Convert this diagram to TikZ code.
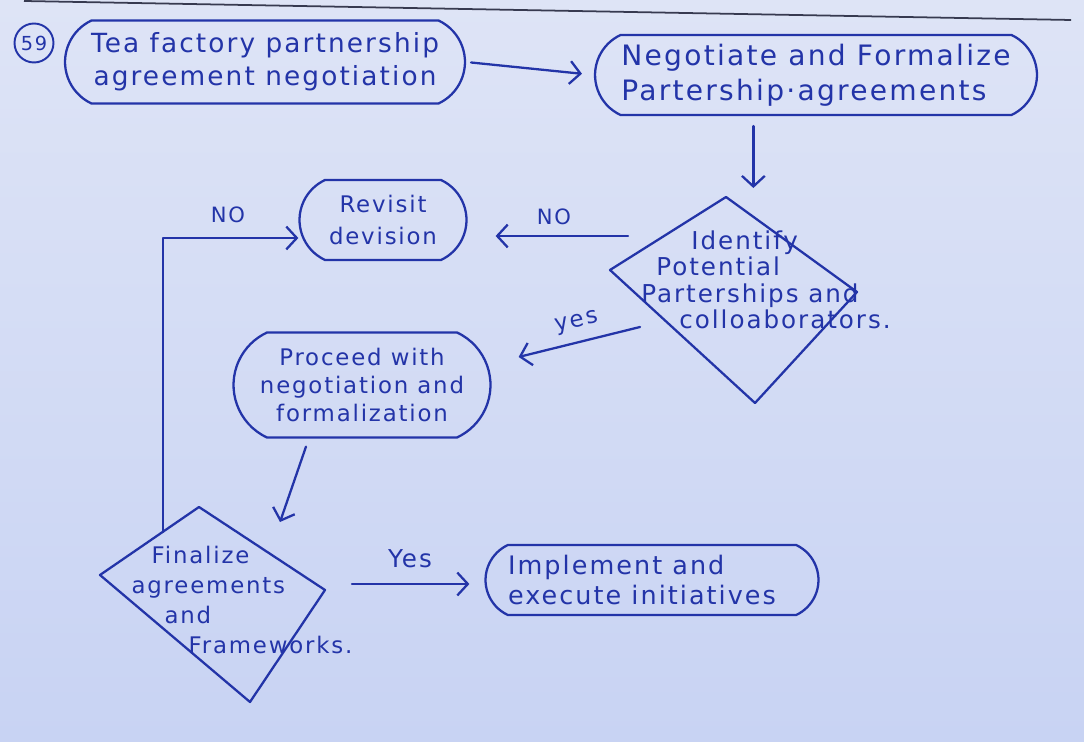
\documentclass[tikz,border=0pt]{standalone}
\usepackage{fontspec}
\setmainfont{DejaVu Sans}[LetterSpace=8]
\usetikzlibrary{arrows.meta,shapes.misc,calc}
\definecolor{ink}{RGB}{35,52,168}
\definecolor{papertop}{RGB}{222,228,246}
\definecolor{paperbot}{RGB}{200,211,243}
\definecolor{rulecol}{RGB}{55,58,80}
\tikzset{
  inkline/.style={draw=ink, line width=1.3pt, line cap=round, line join=round},
  arr/.style={inkline, -{Straight Barb[length=6pt,width=13pt,line width=1.3pt]}},
  box/.style={rounded rectangle, rounded rectangle arc length=130, draw=ink,
    line width=1.3pt, text=ink, inner sep=0pt},
  txt/.style={text=ink, inner sep=0pt},
}
\begin{document}
\begin{tikzpicture}[x=0.02cm, y=-0.02cm]
\shade[top color=papertop, bottom color=paperbot] (0,0) rectangle (1084,742);
\path[use as bounding box] (0,0) rectangle (1084,742);

% ruled line of the paper
\draw[rulecol, line width=1pt] (24,1) -- (1071,20);

% circled number
\node[draw=ink, line width=1.1pt, circle, minimum size=0.78cm, inner sep=0pt, text=ink,
  font=\fontsize{11}{13}\selectfont] (num) at (34,43) {59};

% process boxes
\node[box, minimum width=8cm, minimum height=1.66cm, align=center,
  font=\fontsize{15}{19}\selectfont] (A) at (265,62)
  {Tea factory partnership\\agreement negotiation};
\node[box, minimum width=8.84cm, minimum height=1.6cm, align=left,
  font=\fontsize{16}{20}\selectfont] (B) at (816,75)
  {Negotiate and Formalize\\Partership·agreements};
\node[box, minimum width=3.34cm, minimum height=1.6cm, align=center,
  font=\fontsize{13}{18}\selectfont] (Rev) at (383,220)
  {Revisit\\devision};
\node[box, minimum width=5.14cm, minimum height=2.1cm, align=center,
  font=\fontsize{13}{16}\selectfont] (Proc) at (362,385)
  {Proceed with\\negotiation and\\formalization};
\node[box, minimum width=6.66cm, minimum height=1.4cm, align=left,
  font=\fontsize{14.5}{17}\selectfont] (Impl) at (652,580)
  {Implement and\hspace*{0.4cm}\\execute initiatives\hspace*{0.4cm}};

% decision 1
\coordinate (D1t) at (726,197);
\coordinate (D1l) at (610,270);
\coordinate (D1r) at (857,292);
\coordinate (D1b) at (755,403);
\draw[inkline] (D1t) -- (D1r) -- (D1b) -- (D1l) -- cycle;
\node[txt, align=left, font=\fontsize{14}{15}\selectfont] (D1) at (766,280)
  {\hspace*{1.0cm}Identify\\\hspace*{0.3cm}Potential\\Parterships and\\\hspace*{0.76cm}colloaborators.};

% decision 2
\coordinate (D2t) at (199,507);
\coordinate (D2l) at (100,575);
\coordinate (D2r) at (325,590);
\coordinate (D2b) at (250,702);
\draw[inkline] (D2t) -- (D2r) -- (D2b) -- (D2l) -- cycle;
\node[txt, align=left, font=\fontsize{13}{17}\selectfont] (D2) at (242,600)
  {\hspace*{0.4cm}Finalize\\agreements\\\hspace*{0.66cm}and\\\hspace*{1.14cm}Frameworks.};

% connectors
\draw[arr, shorten <=0.1cm, shorten >=0.24cm] (A.east) -- (B.west);
\coordinate (Bout) at ($(B.south west)!0.34!(B.south east)$);
\draw[arr, shorten <=0.2cm, shorten >=0.18cm] (Bout) -- (Bout |- D1t);

\coordinate (n1) at ($(D1l)+(18,-34)$);
\draw[arr, shorten >=0.56cm] (n1) -- (n1 -| Rev.east);
\node[txt, font=\fontsize{12}{14}\selectfont] (no1) at (554,217) {NO};

\coordinate (y1) at ($(D1l)+(30,57)$);
\coordinate (y1e) at ($(Proc.east)+(27,-28)$);
\draw[arr] (y1) -- (y1e);
\node[txt, rotate=12, font=\fontsize{13}{15}\selectfont] (yes1) at (577,323) {yes};

\coordinate (p1) at ($(Proc.south)+(-56,8)$);
\coordinate (p1e) at ($(D2t)+(81,15)$);
\draw[arr] (p1) -- (p1e);

\coordinate (L0) at ($(D2l)!0.636!(D2t)$);
\draw[arr] (L0) |- ($(Rev.west)+(0,18)$);
\node[txt, font=\fontsize{12}{14}\selectfont] (no2) at (228,215) {NO};

\coordinate (q1) at ($(D2r)+(27,-6)$);
\draw[arr, shorten >=0.3cm] (q1) -- (q1 -| Impl.west);
\node[txt, font=\fontsize{14}{16}\selectfont] (yes2) at (410,559) {Yes};
\end{tikzpicture}
\end{document}
